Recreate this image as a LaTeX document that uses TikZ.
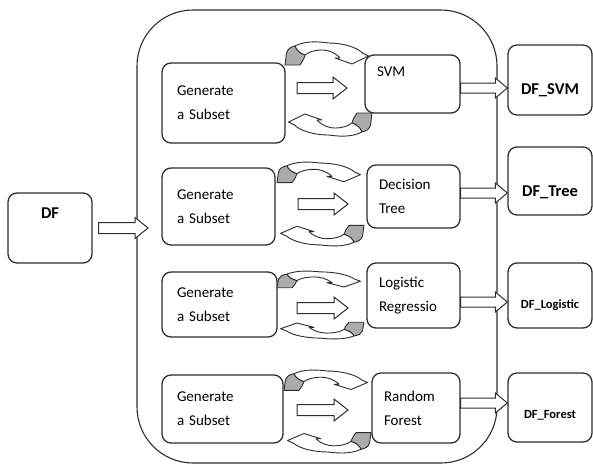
\documentclass[tikz,border=0pt]{standalone}
\usepackage{fontspec}
\setmainfont{Carlito}
\usetikzlibrary{calc}
\definecolor{linec}{HTML}{2E2E2E}
\definecolor{cycgray}{HTML}{ABABAB}
\newcommand\blockarr[5]{%
  \draw[blk] let \p1=#1, \p2=#2 in
   ({\x1},{\y1+#3}) -- ({\x2-#5},{\y1+#3}) -- ({\x2-#5},{\y1+#4}) -- ({\x2},{\y1})
   -- ({\x2-#5},{\y1-#4}) -- ({\x2-#5},{\y1-#3}) -- ({\x1},{\y1-#3}) -- cycle;}
\newcommand\cychalf{%
  \draw[cycl, fill=cycgray] (-43.5,-24) -- (-28.5,-24) .. controls (-26,-28) and (-24,-31) .. (-23.5,-34)
    .. controls (-29,-36) and (-32,-39) .. (-33.5,-43)
    .. controls (-38,-42) and (-41,-40) .. (-42,-36) -- cycle;
  \draw[cycl, fill=white] (-33.5,-43) .. controls (-22,-49) and (-8,-47) .. (0,-46)
    .. controls (14,-46) and (28,-42) .. (34,-36) -- (40,-33) -- (23.5,-25) -- (6.5,-31) -- (11.5,-31)
    .. controls (6,-37) and (-1,-39) .. (-6,-39) .. controls (-14,-39) and (-20,-37) .. (-23.5,-34)
    .. controls (-29,-36) and (-32,-39) .. (-33.5,-43) -- cycle;}
\newcommand\cycarr[3]{%
  \begin{scope}[shift={(#1,#2)}, yscale=#3]
    \cychalf
    \begin{scope}[rotate=180]\cychalf\end{scope}
  \end{scope}}
\begin{document}
\begin{tikzpicture}[x=1pt, y=-1pt,
  box/.style={draw=linec, line width=1.3pt, rounded corners=9pt, fill=white},
  genbox/.style={box, align=left, inner xsep=15pt, inner ysep=0pt, font=\fontsize{15}{24}\selectfont},
  modbox/.style={box, align=left, inner xsep=12pt, inner ysep=0pt, font=\fontsize{15}{24}\selectfont},
  dfbox/.style={box, minimum width=84pt},
  dflab/.style={font=\bfseries\fontsize{16.5}{18}\selectfont, inner sep=0pt},
  dfsmall/.style={font=\bfseries\fontsize{12.5}{14}\selectfont, inner sep=0pt},
  blk/.style={draw=linec, line width=1pt, fill=white, line join=miter},
  cycl/.style={draw=linec, line width=0.9pt, line join=round},
  cont/.style={draw=linec, line width=1.1pt, rounded corners=56pt, minimum width=360pt, minimum height=453pt, inner sep=0pt}]
\useasboundingbox (0,0) rectangle (593,466);

% container
\node[cont] (cont) at (317,236.5) {};

% DF input
\node[dfbox, minimum height=70pt] (df) at (50,228) {};
\node[dflab] (dft) at ([yshift=15pt]df.center) {DF};
\coordinate (dfin) at (148,226);

% cycle arrows
\cycarr{328.5}{89}{1.0}
\cycarr{320.5}{204}{0.89}
\cycarr{320.5}{305}{0.72}
\cycarr{327.5}{411.5}{0.88}

% generate boxes
\node[genbox, text width=93pt, minimum height=80pt] (g1) at (223.5,103) {Generate\\a Subset};
\node[genbox, text width=83pt, minimum height=77pt] (g2) at (218.5,206.5) {Generate\\a Subset};
\node[genbox, text width=85pt, minimum height=65pt] (g3) at (219.5,304.5) {Generate\\a Subset};
\node[genbox, text width=91pt, minimum height=68pt] (g4) at (222.5,409) {Generate\\a Subset};

% model boxes
\node[modbox, text width=71pt, minimum height=58pt] (m1) at (412.5,84) {SVM\\\mbox{}};
\node[modbox, text width=69pt, minimum height=63pt] (m2) at (413.5,196.5) {Decision\\Tree};
\node[modbox, text width=69pt, minimum height=65pt] (m3) at (413.5,295.5) {Logistic\\Regressio};
\node[modbox, text width=64pt, minimum height=70pt] (m4) at (416,408) {Random\\Forest};

% output boxes
\node[dfbox, minimum height=70pt] (d1) at (550,80) {};
\node[dflab] (d1t) at ([yshift=-10pt]d1.center) {DF\_SVM};
\node[dfbox, minimum height=68pt] (d2) at (550,181) {};
\node[dflab] (d2t) at ([yshift=-11pt]d2.center) {DF\_Tree};
\node[dfbox, minimum height=65pt] (d3) at (550,295.5) {};
\node[dfsmall] (d3t) at ([yshift=-9.5pt]d3.center) {DF\_Logistic};
\node[dfbox, minimum height=69pt] (d4) at (550,407.5) {};
\node[dfsmall] (d4t) at ([yshift=-8pt]d4.center) {DF\_Forest};

% inner arrows
\coordinate (ia1s) at (297,88);  \coordinate (ia1e) at (347,88);
\coordinate (ia2s) at (298,204); \coordinate (ia2e) at (348,204);
\coordinate (ia3s) at (297,308); \coordinate (ia3e) at (348,308);
\coordinate (ia4s) at (297,410); \coordinate (ia4e) at (348,410);
\blockarr{(ia1s)}{(ia1e)}{5.5pt}{11pt}{14pt}
\blockarr{(ia2s)}{(ia2e)}{5.5pt}{11pt}{14pt}
\blockarr{(ia3s)}{(ia3e)}{5.5pt}{11pt}{14pt}
\blockarr{(ia4s)}{(ia4e)}{5.5pt}{11pt}{14pt}

% input arrow
\blockarr{([xshift=6pt]df.east)}{(dfin)}{5.5pt}{10.5pt}{13pt}

% output arrows
\blockarr{([yshift=-4pt]m1.east)}{(d1.west)}{5pt}{10pt}{12pt}
\blockarr{([yshift=3.5pt]m2.east)}{(d2.west)}{5pt}{10pt}{12pt}
\blockarr{([yshift=-6.5pt]m3.east)}{(d3.west)}{5pt}{10pt}{12pt}
\blockarr{([yshift=5pt]m4.east)}{(d4.west)}{5pt}{10pt}{12pt}
\end{tikzpicture}
\end{document}
